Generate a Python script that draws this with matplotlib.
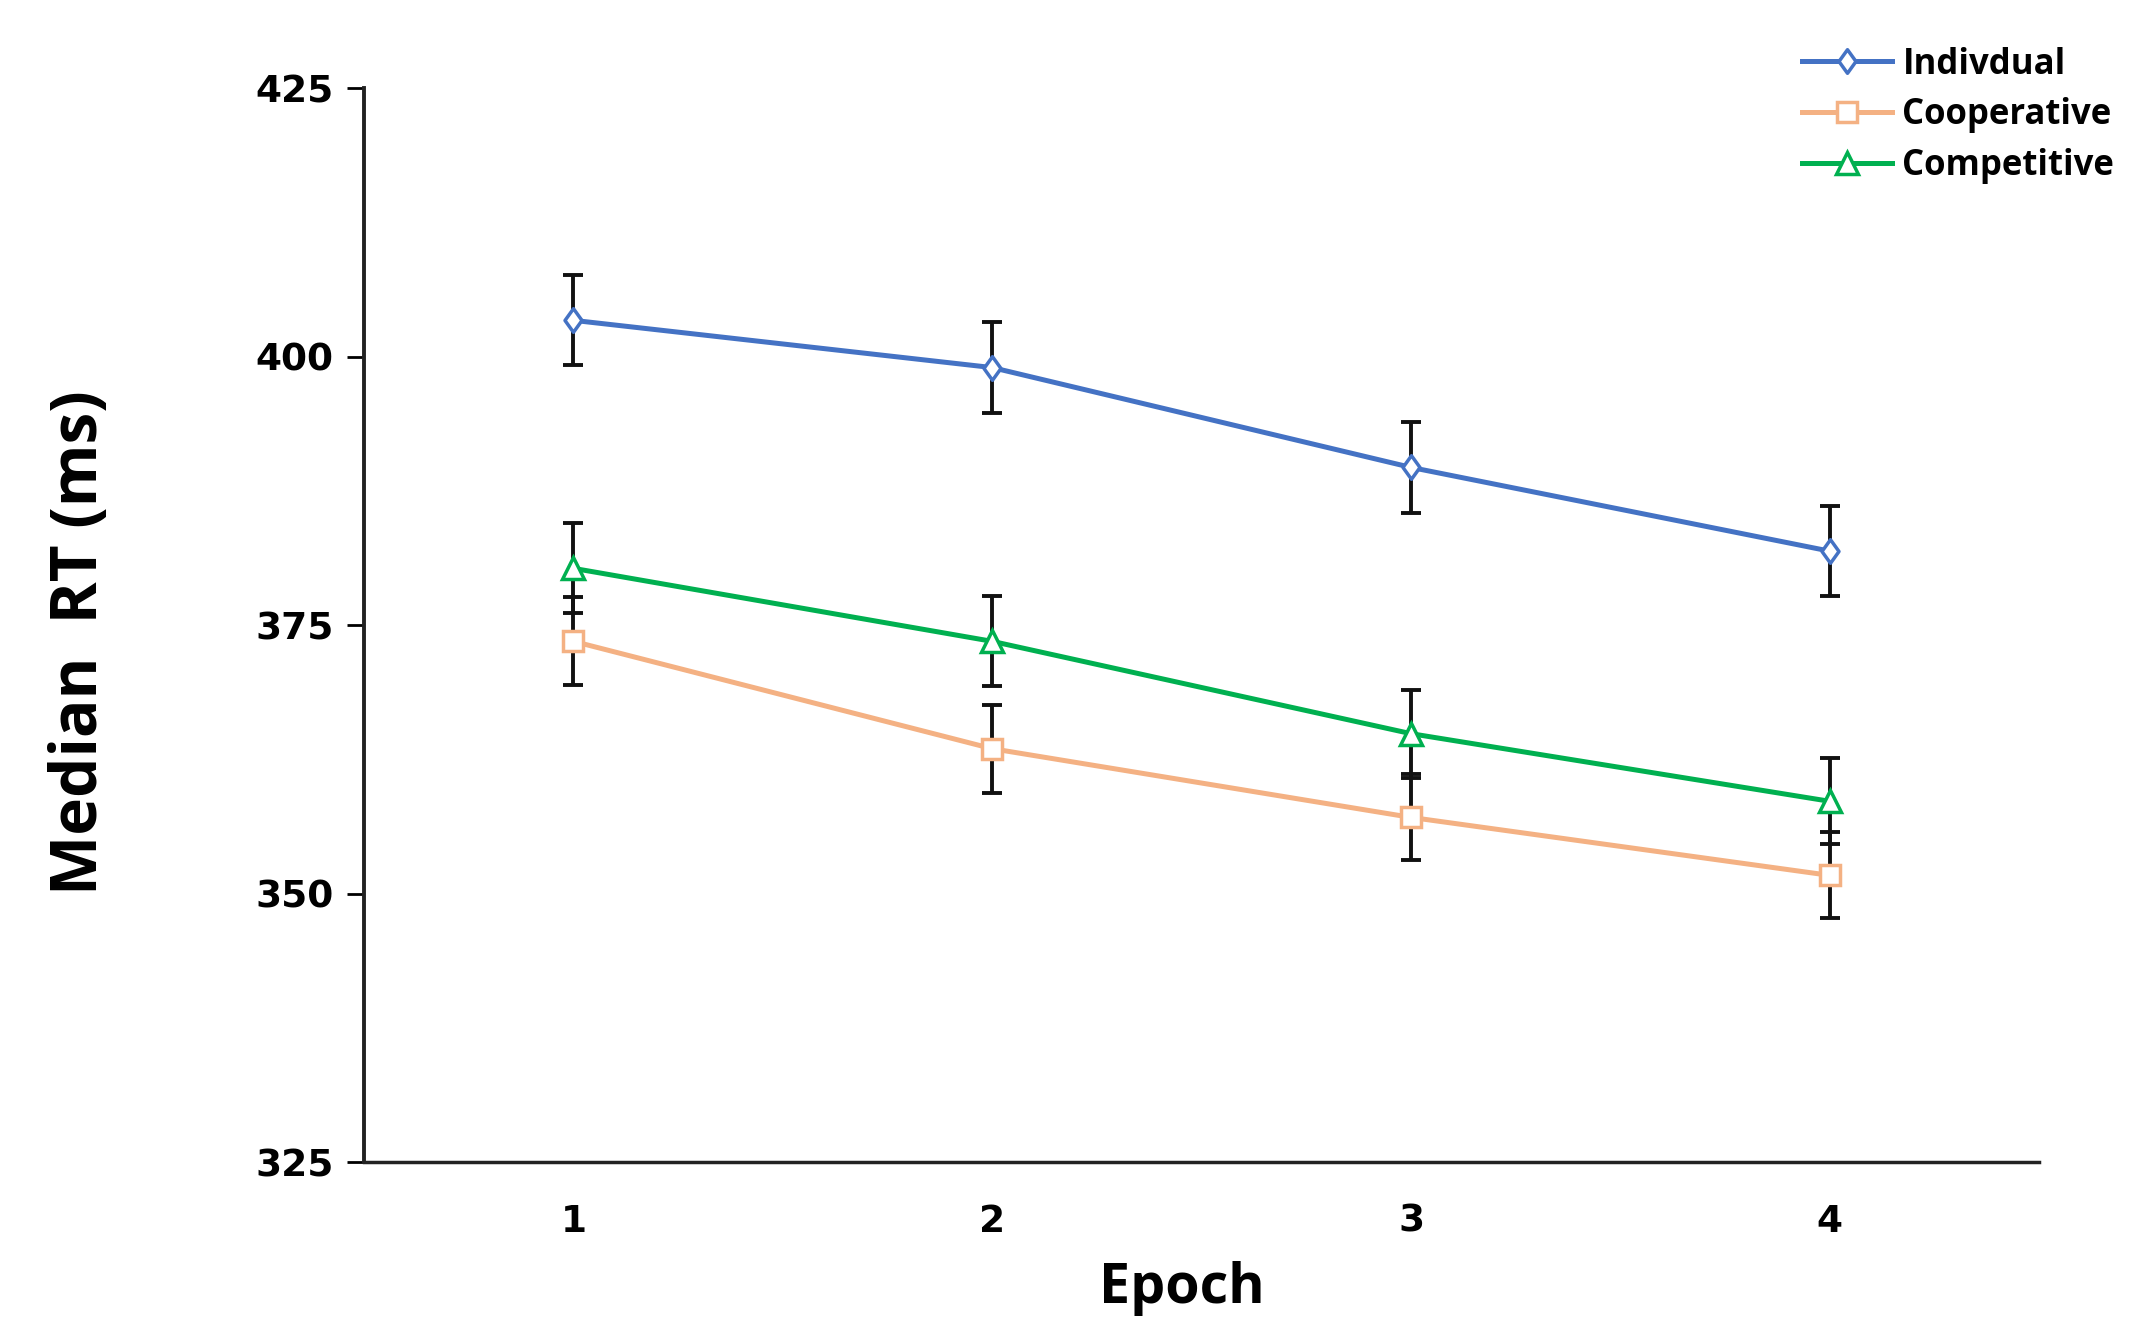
import matplotlib
matplotlib.use("Agg")
import matplotlib.pyplot as plt
from matplotlib.path import Path

epochs = [1, 2, 3, 4]
series_names = ["Indivdual", "Cooperative", "Competitive"]
individual = [403.4, 399.0, 389.7, 381.9]
cooperative = [373.5, 363.5, 357.1, 351.7]
competitive = [380.3, 373.5, 364.9, 358.6]
individual_err = [4.2, 4.2, 4.2, 4.2]
cooperative_err = [4.1, 4.1, 4.0, 4.0]
competitive_err = [4.2, 4.2, 4.1, 4.0]
yticks = [325, 350, 375, 400, 425]

colors = ["#4472C4", "#F4B183", "#00B050"]
diamond = Path([(0, 1), (0.72, 0), (0, -1), (-0.72, 0), (0, 1)],
               [Path.MOVETO, Path.LINETO, Path.LINETO, Path.LINETO, Path.CLOSEPOLY])
markers = [diamond, "s", "^"]
msizes = [17, 15, 16]

plt.rcParams['font.family'] = ['Open Sans', 'DejaVu Sans']

fig = plt.figure(figsize=(21.45, 13.32), dpi=100)
ax = fig.add_axes([0.1697, 0.1276, 0.781, 0.806])

data = [individual, cooperative, competitive]
errs = [individual_err, cooperative_err, competitive_err]

for vals, er in zip(data, errs):
    ax.errorbar(epochs, vals, yerr=er, fmt="none", ecolor="#111111",
                elinewidth=2.8, capsize=7.5, capthick=2.8, zorder=2)

for name, vals, c, m, ms in zip(series_names, data, colors, markers, msizes):
    ax.plot(epochs, vals, color=c, lw=3.6, marker=m, markersize=ms,
            markerfacecolor="white", markeredgecolor=c, markeredgewidth=2.5,
            label=name, zorder=3)

ax.set_xlim(0.5, 4.5)
ax.set_ylim(325, 425)
ax.set_yticks(yticks)
ax.set_xticks(epochs)
ax.spines['top'].set_visible(False)
ax.spines['right'].set_visible(False)
ax.spines['left'].set_linewidth(2.8)
ax.spines['bottom'].set_linewidth(2.5)
ax.spines['left'].set_color("#222222")
ax.spines['bottom'].set_color("#222222")
ax.tick_params(axis='y', direction='out', length=12, width=2, pad=10)
ax.tick_params(axis='x', length=0, pad=30)
for lab in ax.get_xticklabels() + ax.get_yticklabels():
    lab.set_fontweight('bold')
    lab.set_fontfamily('DejaVu Sans')
    lab.set_fontsize(27)

ax.set_xlabel("Epoch", fontsize=40, fontweight='bold')
ax.xaxis.set_label_coords(0.488, -0.092)
ax.set_ylabel("Median  RT (ms)", fontsize=46, fontweight='bold')
ax.yaxis.set_label_coords(-0.150, 0.484)

leg = fig.legend(*ax.get_legend_handles_labels(), loc='upper left',
                 bbox_to_anchor=(0.840, 0.965), frameon=False,
                 handlelength=2.6, handletextpad=0.3, labelspacing=0.42,
                 borderpad=0, borderaxespad=0,
                 prop={'weight': 'bold', 'size': 25})

fig.savefig("out.png", dpi=100)
